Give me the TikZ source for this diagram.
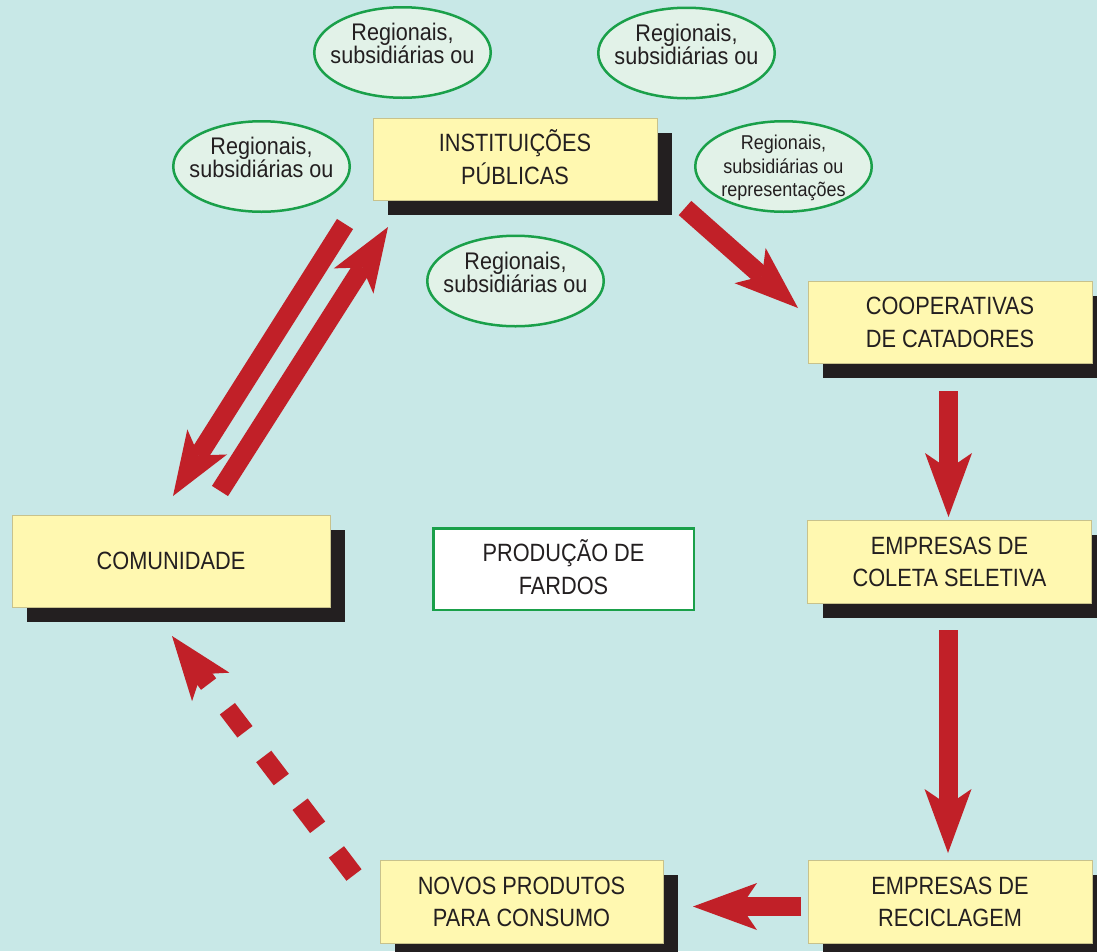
\documentclass[tikz,border=0pt]{standalone}
\usepackage{fontspec}
\newfontfamily\boxfont{Liberation Sans}[FakeStretch=0.87]
\newfontfamily\ellfont{Liberation Sans}[FakeStretch=0.9]
\usetikzlibrary{arrows.meta,shapes.geometric,shadows}
\definecolor{bgc}{RGB}{200,232,231}
\definecolor{boxyellow}{RGB}{255,248,176}
\definecolor{boxedge}{RGB}{200,194,140}
\definecolor{shadowc}{RGB}{35,31,32}
\definecolor{arrowred}{RGB}{193,32,40}
\definecolor{ellfill}{RGB}{226,242,232}
\definecolor{ellgreen}{RGB}{26,160,74}
\definecolor{textc}{RGB}{35,31,32}
\newcommand{\capline}[1]{\raisebox{0pt}[18pt]{#1}}
\begin{document}
\begin{tikzpicture}[x=1pt,y=-1pt,
  ybox/.style={rectangle, fill=boxyellow, draw=boxedge, line width=0.5pt, inner sep=0pt,
    minimum width=284pt, minimum height=82pt, align=center, text=textc,
    font=\boxfont\fontsize{25}{32.4}\selectfont,
    drop shadow={shadow xshift=15pt, shadow yshift=-15pt, fill=shadowc, opacity=1, draw=none}},
  fbox/.style={rectangle, fill=white, draw=ellgreen, line width=2.5pt, inner sep=0pt,
    minimum width=260.5pt, minimum height=81.5pt, align=center, text=textc,
    font=\boxfont\fontsize{25}{32.4}\selectfont},
  ell/.style={ellipse, fill=ellfill, draw=ellgreen, line width=2.5pt, inner sep=0pt,
    minimum width=176.5pt, minimum height=90.5pt},
  ellt/.style={inner sep=0pt, align=center, text=textc, font=\ellfont\fontsize{24}{23}\selectfont},
  ellts/.style={inner sep=0pt, align=center, text=textc, font=\ellfont\fontsize{20}{23.5}\selectfont},
  bigarrow/.style={draw=arrowred, line width=19pt,
    -{Stealth[length=64pt, width=47pt, inset=16pt, line width=0pt]}},
  dasharrow/.style={bigarrow, dash pattern=on 29pt off 31pt}
]
\useasboundingbox (0,0) rectangle (1097,951);
\fill[bgc] (0,0) rectangle (1097,951);

% boxes
\node[ybox] (inst) at (515,159) {\capline{INSTITUIÇÕES}\\PÚBLICAS};
\node[ybox] (coop) at (950,322) {\capline{COOPERATIVAS}\\DE CATADORES};
\node[ybox, minimum height=83pt] (coleta) at (949.5,561.5) {\capline{EMPRESAS DE}\\COLETA SELETIVA};
\node[ybox, minimum height=83pt] (recic) at (950,901.5) {\capline{EMPRESAS DE}\\RECICLAGEM};
\node[ybox, minimum height=83pt, minimum width=283pt] (novos) at (521.5,901.5) {\capline{NOVOS PRODUTOS}\\PARA CONSUMO};
\node[ybox, minimum width=318pt, minimum height=92pt] (comu) at (171,561) {COMUNIDADE};
\node[fbox] (fardos) at (563.5,569) {\capline{PRODUÇÃO DE}\\FARDOS};

% ellipses
\node[ell] (e1) at (402.5,52.5) {};
\node[ellt] (e1t) at ([yshift=8.75pt]e1.center) {Regionais,\\subsidiárias ou};
\node[ell] (e2) at (686.5,53) {};
\node[ellt] (e2t) at ([yshift=8.75pt]e2.center) {Regionais,\\subsidiárias ou};
\node[ell] (e3) at (261.5,166.5) {};
\node[ellt] (e3t) at ([yshift=8.75pt]e3.center) {Regionais,\\subsidiárias ou};
\node[ell] (e4) at (515.5,281) {};
\node[ellt] (e4t) at ([yshift=8.75pt]e4.center) {Regionais,\\subsidiárias ou};
\node[ell] (e5) at (783.5,166.5) {};
\node[ellts] (e5t) at ([yshift=-1.8pt]e5.center) {Regionais,\\subsidiárias ou\\representações};

% arrow end points
\coordinate (a1s) at (685,208);   \coordinate (a1e) at (798,308);
\coordinate (a2s) at (948.5,391); \coordinate (a2e) at (948.5,517);
\coordinate (a3s) at (948,630);   \coordinate (a3e) at (948,853);
\coordinate (a4s) at (801,906.5); \coordinate (a4e) at (693,906.5);
\coordinate (a5s) at (354,875);   \coordinate (a5e) at (172,636);
\coordinate (a6s) at (345,224);   \coordinate (a6e) at (173,496);
\coordinate (a7s) at (220,491);   \coordinate (a7e) at (388,227);

\draw[bigarrow] (a1s) -- (a1e);
\draw[bigarrow] (a2s) -- (a2e);
\draw[bigarrow] (a3s) -- (a3e);
\draw[bigarrow] (a4s) -- (a4e);
\draw[dasharrow] (a5s) -- (a5e);
\draw[bigarrow] (a6s) -- (a6e);
\draw[bigarrow] (a7s) -- (a7e);
\end{tikzpicture}
\end{document}
